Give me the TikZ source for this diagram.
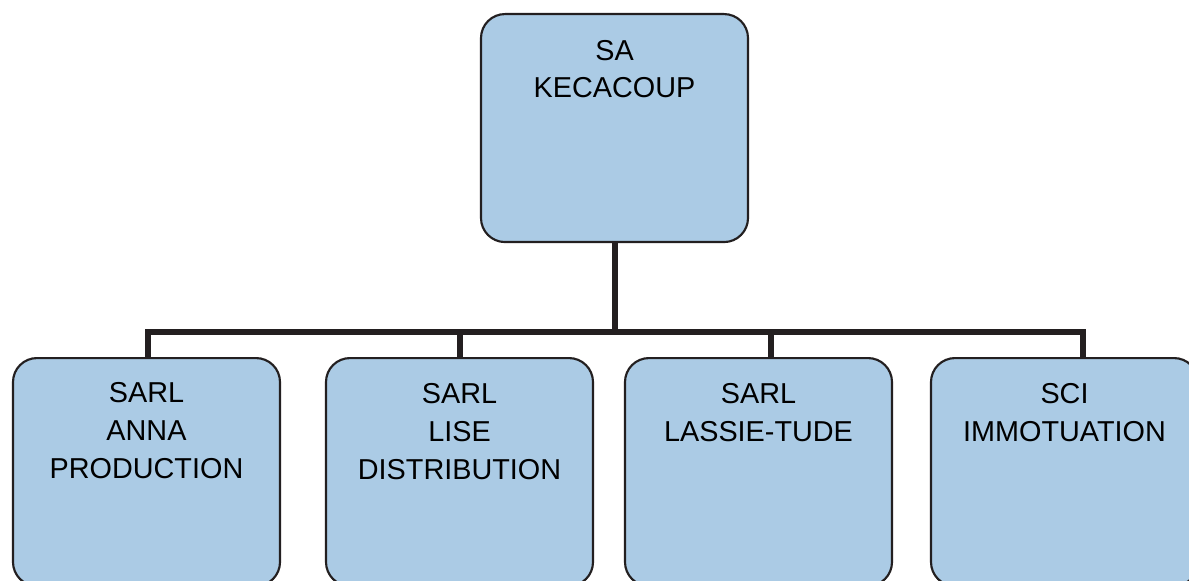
\documentclass[tikz,border=0pt]{standalone}
\usepackage{fontspec}
\setmainfont{Liberation Sans}
\definecolor{boxfill}{HTML}{ABCBE5}
\definecolor{ink}{HTML}{231F20}
\begin{document}
\begin{tikzpicture}[x=0.75pt,y=-0.75pt,
  orgbox/.style={draw=ink,line width=1.6pt,fill=boxfill,rounded corners=18pt,
    minimum width=267*0.75pt,minimum height=228*0.75pt,inner sep=0pt,anchor=north},
  lbl/.style={font=\fontsize{21.6pt}{28.3pt}\selectfont,align=center,anchor=base,inner sep=0pt},
  link/.style={draw=ink,line width=3.8pt,line join=miter}]
\clip (0,0) rectangle (1189,581);
\fill[white] (0,0) rectangle (1189,581);
\node[orgbox] (top) at (614.5,13) {};
\node[orgbox] (b1) at (146.5,357) {};
\node[orgbox] (b2) at (459.5,357) {};
\node[orgbox] (b3) at (758.5,357) {};
\node[orgbox] (b4) at (1064.5,357) {};
\node[lbl] (ttop) at (614.5,98) {SA\\KECACOUP};
\node[lbl] (t1) at (146.5,478) {SARL\\ANNA\\PRODUCTION};
\node[lbl] (t2) at (459.5,479) {SARL\\LISE\\DISTRIBUTION};
\node[lbl] (t3) at (758.5,441) {SARL\\LASSIE-TUDE};
\node[lbl] (t4) at (1064.5,441) {SCI\\IMMOTUATION};
\coordinate (j0) at (615,332);
\coordinate (j1) at (148,332);
\coordinate (j2) at (460,332);
\coordinate (j3) at (771,332);
\coordinate (j4) at (1083,332);
\draw[link] (j0 |- top.south) -- (j0);
\draw[link] (j1 |- b1.north) -- (j1) -- (j4) -- (j4 |- b4.north);
\draw[link] (j2) -- (j2 |- b2.north);
\draw[link] (j3) -- (j3 |- b3.north);
\end{tikzpicture}
\end{document}
